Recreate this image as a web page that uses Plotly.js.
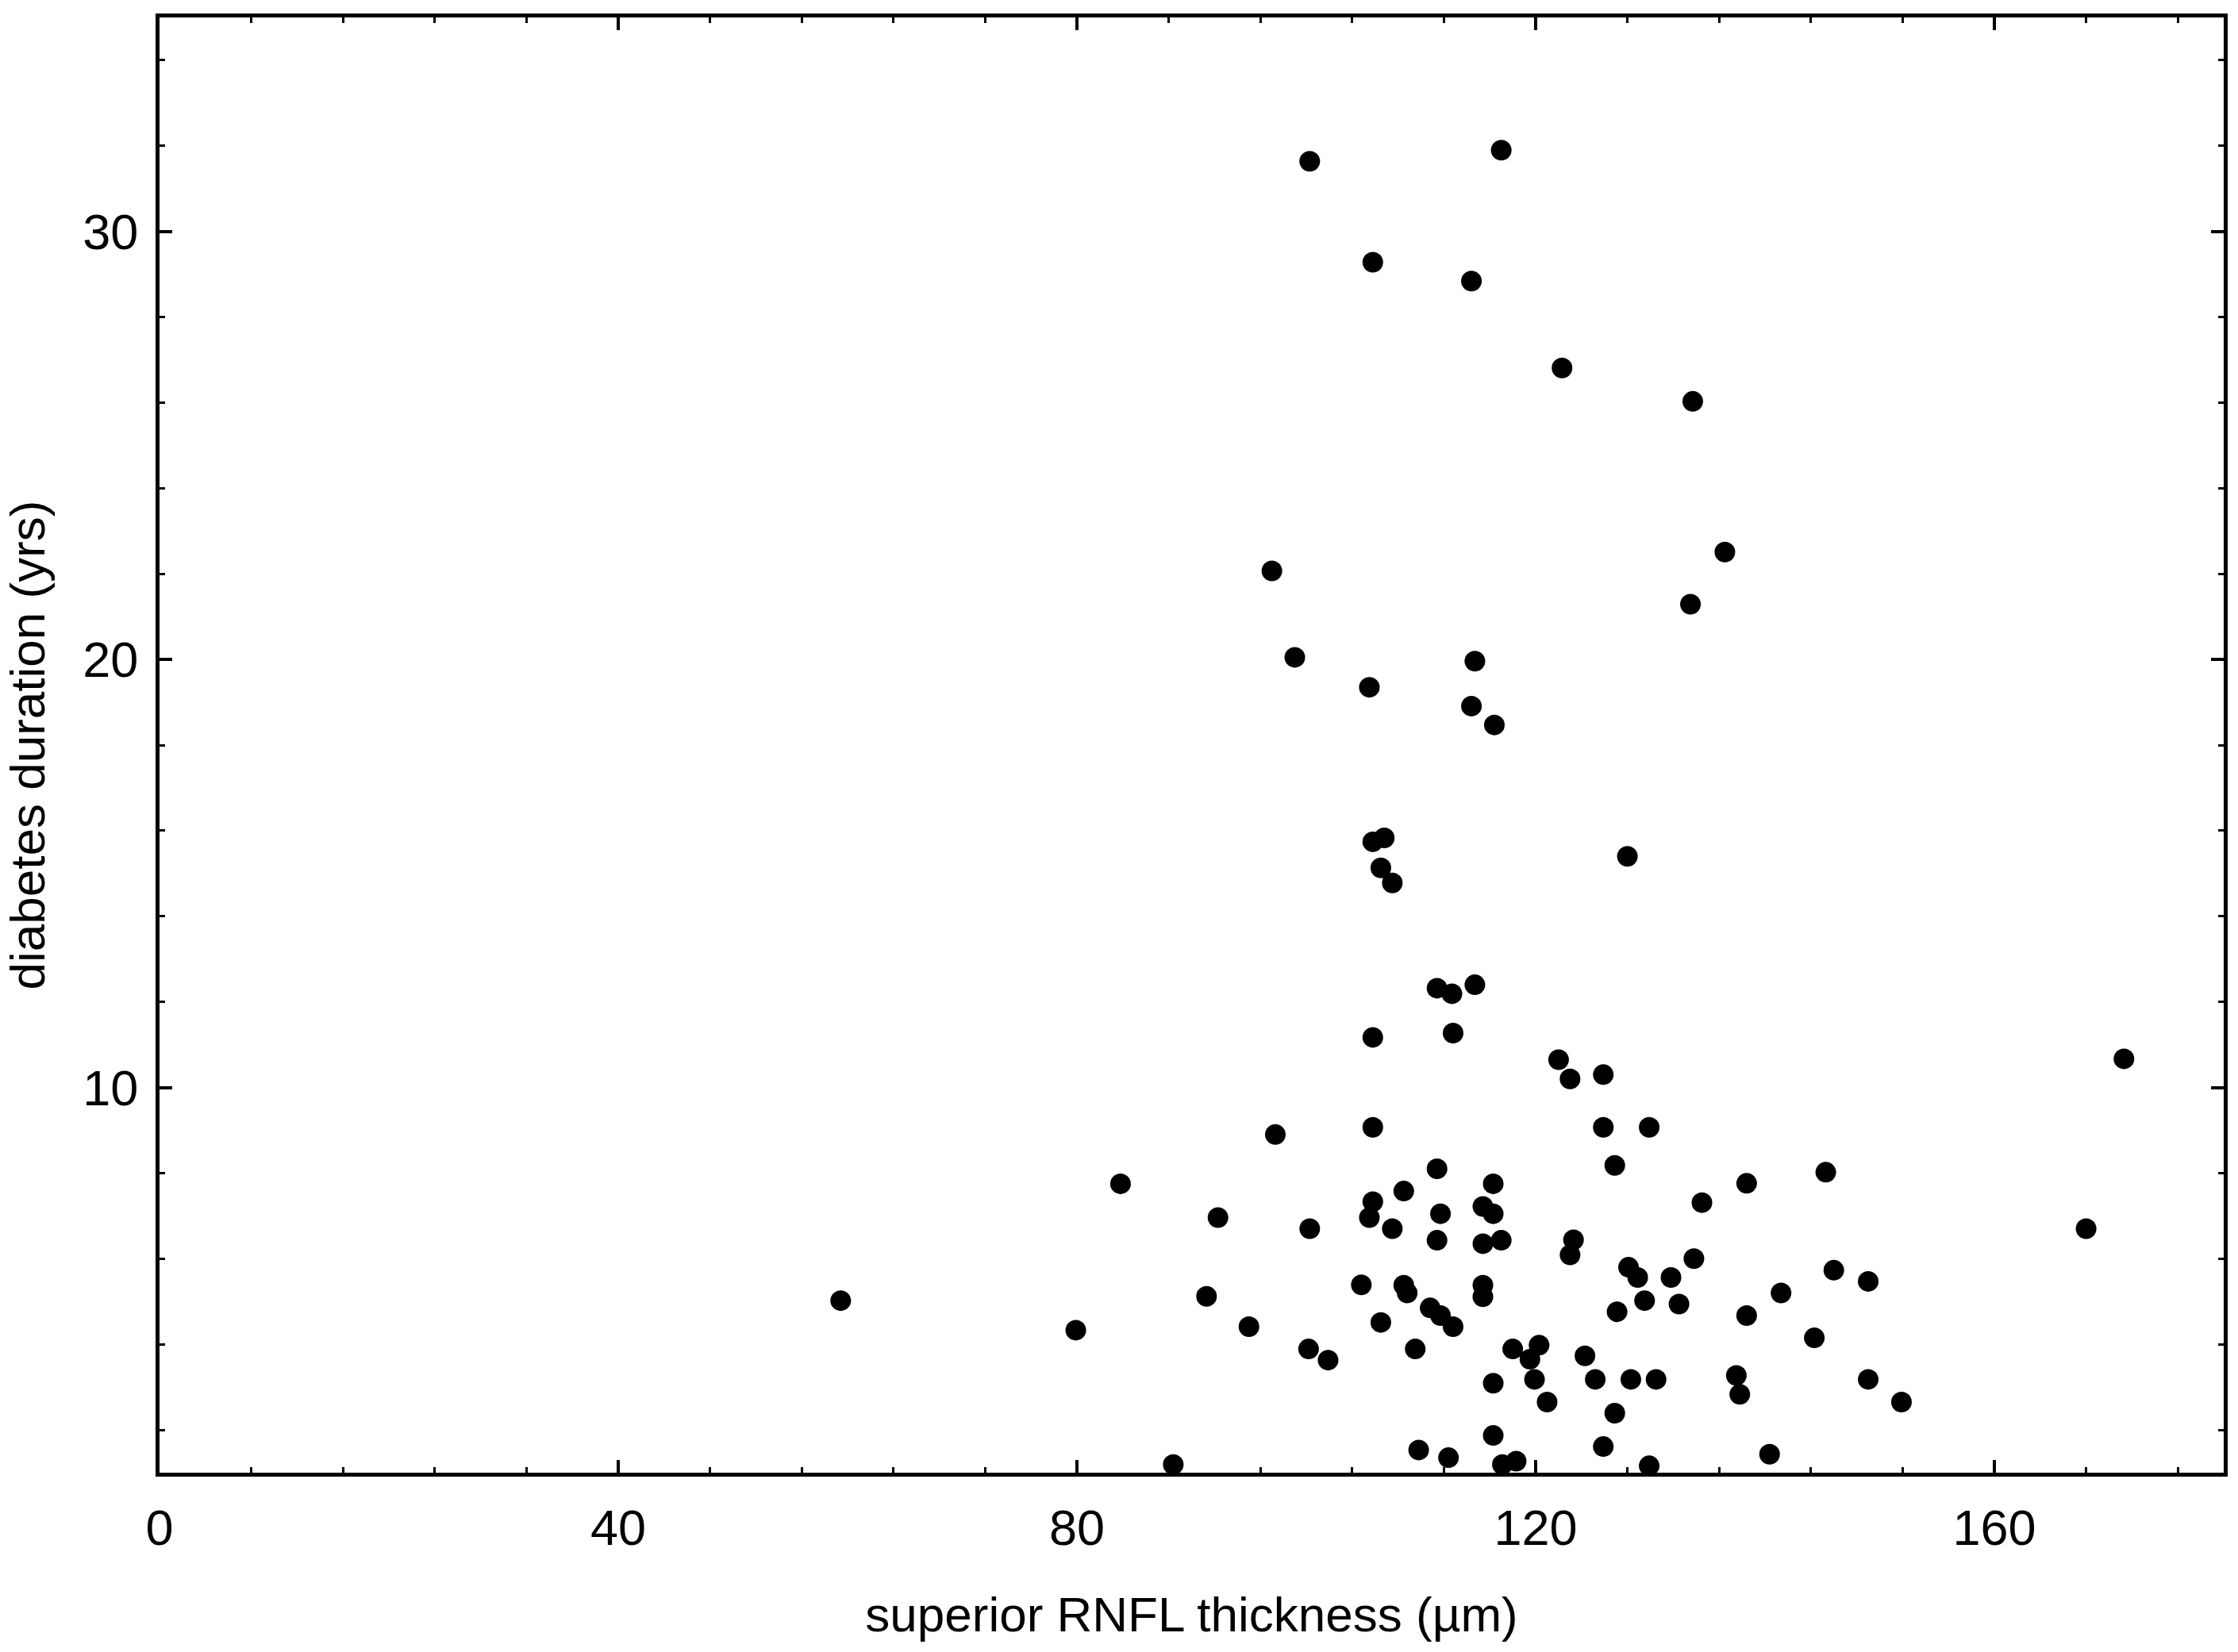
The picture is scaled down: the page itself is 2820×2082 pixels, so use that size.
<!DOCTYPE html>
<html>
<head>
<meta charset="utf-8">
<script src="https://cdn.plot.ly/plotly-3.0.1.min.js"></script>
<style>
  html, body { margin: 0; padding: 0; background: #fff; }
  #chart { width: 2820px; height: 2082px; }
</style>
</head>
<body>
<div id="chart"></div>
<script>
// superior RNFL thickness (µm)
const rnflThickness = [
  105.8, 112.8, 122.0, 123.0, 125.9, 97.3, 105.8, 125.9, 126.9, 111.4,
  116.3, 108.5, 105.8, 105.5, 111.7, 115.4, 116.3, 92.3, 100.3, 107.5,
  111.4, 115.4, 117.0, 123.3, 123.0, 91.3, 104.8, 108.5, 108.8, 115.4,
  115.4, 110.8, 111.7, 112.8, 127.1, 95.0, 106.5, 100.2, 101.9, 109.5,
  118.0, 120.3, 119.5, 119.9, 124.3, 116.3, 125.2, 121.0, 126.9, 116.3,
  125.9, 109.8, 112.4, 117.1, 118.3, 88.4,
  129.9, 145.3, 138.4, 134.5, 168.0, 133.8, 128.1, 128.9, 131.8, 146.0,
  149.0, 129.5, 132.5, 141.4, 138.4, 144.3, 128.3, 130.5, 137.5, 137.8,
  149.0, 151.9, 140.4, 129.9,
  59.4, 79.9, 83.8,
  97.0, 99.0, 105.5, 114.7, 114.4, 116.4, 105.8, 106.8, 106.5, 107.5,
  128.0, 111.4, 112.7, 114.7,
  136.5, 133.5,
  100.3, 117.0, 105.8, 114.4, 122.3,
  133.7, 171.3
];
// diabetes duration (yrs)
const diabetesDuration = [
  11.17, 11.27, 10.65, 10.20, 10.30, 8.90, 9.07, 9.07, 8.18, 8.10,
  7.75, 7.58, 7.33, 6.96, 7.05, 7.22, 7.05, 6.96, 6.70, 6.70,
  6.43, 6.35, 6.43, 6.44, 6.09, 5.12, 5.39, 5.38, 5.20, 5.38,
  5.11, 4.85, 4.67, 4.41, 4.76, 4.41, 4.51, 3.89, 3.63, 3.89,
  3.89, 3.98, 3.65, 3.18, 3.73, 3.09, 3.18, 2.65, 2.39, 1.87,
  1.61, 1.53, 1.35, 1.19, 1.27, 1.19,
  9.07, 8.02, 7.76, 7.31, 6.70, 6.00, 5.80, 5.56, 5.56, 5.73,
  5.47, 5.02, 4.94, 5.20, 4.67, 4.15, 3.18, 3.18, 3.27, 2.83,
  3.18, 2.65, 1.43, 1.16,
  5.02, 4.33, 7.75,
  22.07, 20.05, 19.35, 19.96, 18.91, 18.47, 15.74, 15.83, 15.13, 14.78,
  15.40, 12.32, 12.19, 12.40,
  22.51, 21.29,
  31.64, 31.90, 29.28, 28.84, 26.81,
  26.03, 10.67
];

const xTitle = 'superior RNFL thickness (µm)';
const yTitle = 'diabetes duration (yrs)';

const fontFamily = 'Liberation Sans, Arial, sans-serif';

const trace = {
  type: 'scatter',
  mode: 'markers',
  x: rnflThickness,
  y: diabetesDuration,
  marker: { color: '#000', size: 26, line: { width: 0 } },
  cliponaxis: false,
  hoverinfo: 'skip'
};

const axisCommon = {
  showgrid: false,
  zeroline: false,
  showline: true,
  linecolor: '#000',
  linewidth: 5,
  mirror: 'ticks',
  ticks: 'inside',
  ticklen: 16,
  tickwidth: 4,
  tickcolor: '#000',
  tickfont: { family: fontFamily, size: 63, color: '#000' },
  fixedrange: true
};

const layout = {
  width: 2820,
  height: 2082,
  margin: { l: 201, r: 18, t: 22, b: 226 },
  paper_bgcolor: '#fff',
  plot_bgcolor: '#fff',
  showlegend: false,
  font: { family: fontFamily, color: '#000' },
  xaxis: Object.assign({}, axisCommon, {
    range: [0, 180],
    tick0: 0,
    dtick: 40,
    ticklabelstandoff: 10,
    minor: { dtick: 8, ticks: 'inside', ticklen: 7, tickwidth: 3, tickcolor: '#000', showgrid: false },
    title: { text: xTitle, font: { family: fontFamily, size: 62, color: '#000' }, standoff: 55 }
  }),
  yaxis: Object.assign({}, axisCommon, {
    range: [1, 35],
    tick0: 0,
    dtick: 10,
    ticklabelstandoff: 9,
    minor: { dtick: 2, ticks: 'inside', ticklen: 7, tickwidth: 3, tickcolor: '#000', showgrid: false },
    title: { text: yTitle, font: { family: fontFamily, size: 62, color: '#000' }, standoff: 45 }
  })
};

Plotly.newPlot('chart', [trace], layout, { staticPlot: true, displayModeBar: false });
</script>
</body>
</html>
